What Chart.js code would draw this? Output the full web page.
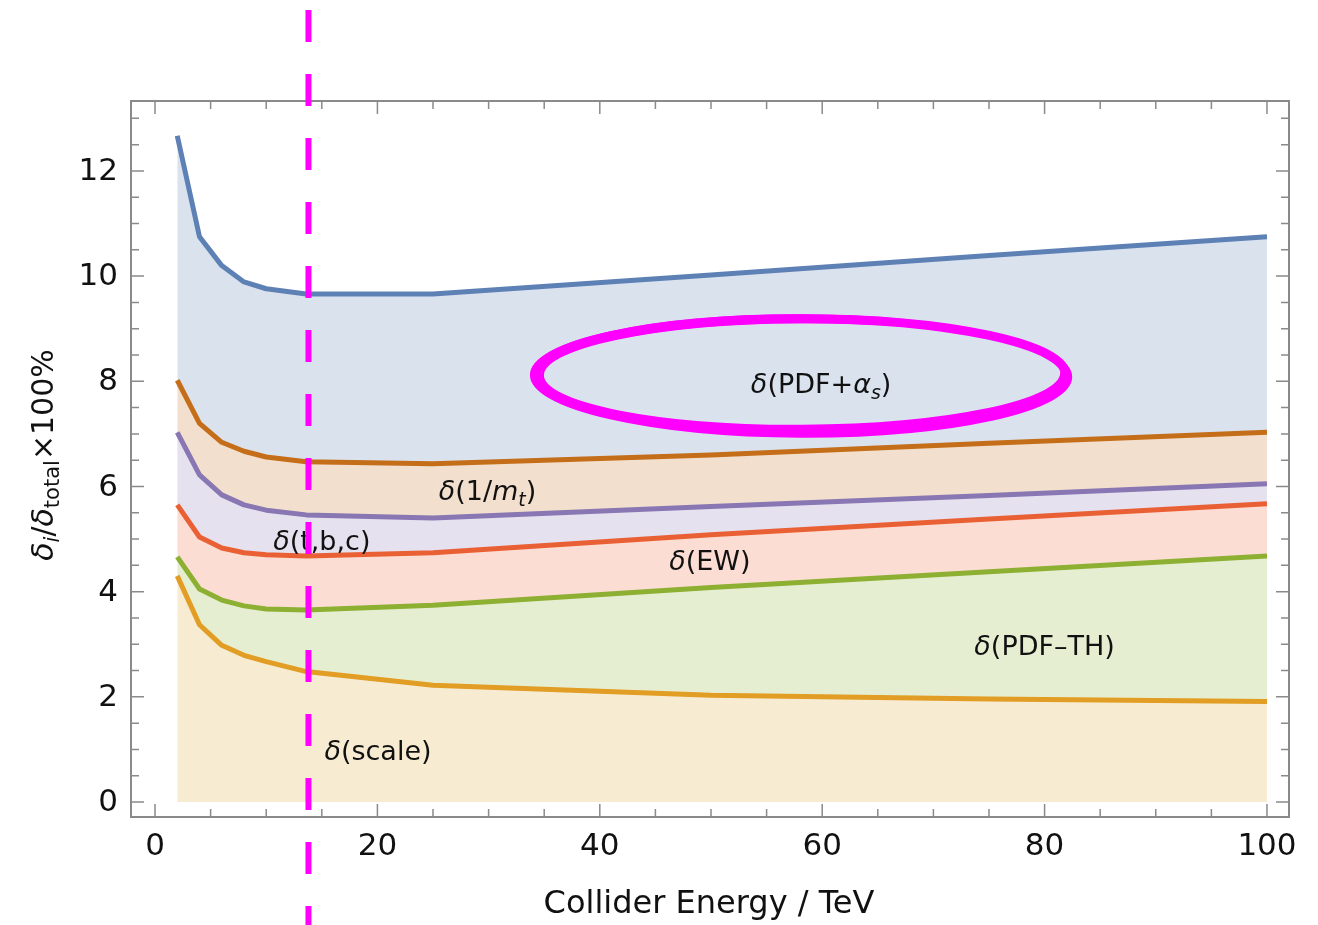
<!DOCTYPE html>
<html>
<head>
<meta charset="utf-8">
<script src="https://cdn.jsdelivr.net/npm/chart.js@4"></script>
<style>
  html, body { margin: 0; padding: 0; background: #fff; }
  #wrap { width: 1318px; height: 925px; }
</style>
</head>
<body>
<div id="wrap"><canvas id="grafica" width="1318" height="925"></canvas></div>
<script>
// Datos (energia del colisionador en TeV)
const energias = [2, 4, 6, 8, 10, 13.6, 25, 50, 75, 100];
const dScale   = [4.30, 3.37, 2.98, 2.79, 2.67, 2.48, 2.22, 2.03, 1.96, 1.91];
const dPdfTh   = [4.66, 4.05, 3.84, 3.73, 3.67, 3.65, 3.74, 4.08, 4.38, 4.68];
const dEW      = [5.65, 5.04, 4.83, 4.74, 4.70, 4.68, 4.74, 5.08, 5.38, 5.67];
const dTBC     = [7.03, 6.22, 5.84, 5.65, 5.55, 5.46, 5.40, 5.62, 5.83, 6.05];
const dMt      = [8.02, 7.20, 6.84, 6.67, 6.56, 6.47, 6.43, 6.60, 6.82, 7.03];
const dPdfAs   = [12.67, 10.75, 10.20, 9.89, 9.76, 9.66, 9.66, 10.02, 10.39, 10.75];

const xTicks = [0, 20, 40, 60, 80, 100];
const yTicks = [0, 2, 4, 6, 8, 10, 12];

const FONT = "'DejaVu Sans', sans-serif";

// etiquetas dentro de la grafica: [segmentos, x, y]
const etiquetas = [
  [[{ t: 'δ', it: 1 }, { t: '(PDF+' }, { t: 'α', it: 1 }, { t: 's', it: 1, sub: 1 }, { t: ')' }], 59.9, 7.97],
  [[{ t: 'δ', it: 1 }, { t: '(1/' }, { t: 'm', it: 1 }, { t: 't', it: 1, sub: 1 }, { t: ')' }], 29.9, 5.93],
  [[{ t: 'δ', it: 1 }, { t: '(t,b,c)' }], 15.0, 4.98],
  [[{ t: 'δ', it: 1 }, { t: '(EW)' }], 49.9, 4.6],
  [[{ t: 'δ', it: 1 }, { t: '(PDF–TH)' }], 80.0, 2.98],
  [[{ t: 'δ', it: 1 }, { t: '(scale)' }], 20.05, 0.99]
];

const lineaVertical = 13.8;

function fuente(s, size) {
  return (s.it ? 'italic ' : '') + (s.sub ? size * 0.7 : size) + 'px ' + FONT;
}
function anchoRico(ctx, segs, size) {
  let w = 0;
  segs.forEach(s => { ctx.font = fuente(s, size); w += ctx.measureText(s.t).width; });
  return w;
}
// dibuja texto con cursivas y subindices centrado en (cx, cy)
function textoRico(ctx, segs, size, cx, cy) {
  let x = cx - anchoRico(ctx, segs, size) / 2;
  const base = cy + size * 0.36;
  ctx.textAlign = 'left';
  ctx.textBaseline = 'alphabetic';
  segs.forEach(s => {
    ctx.font = fuente(s, size);
    ctx.fillText(s.t, x, s.sub ? base + size * 0.22 : base);
    x += ctx.measureText(s.t).width;
  });
}

const serie = (label, data, color, fill, relleno) => ({
  label, data, borderColor: color, backgroundColor: relleno, borderWidth: 5,
  fill, pointRadius: 0, tension: 0, borderCapStyle: 'butt', borderJoinStyle: 'round'
});

const decoracion = {
  id: 'decoracion',
  afterDatasetsDraw(chart) {
    const ctx = chart.ctx, xs = chart.scales.x, ys = chart.scales.y;
    ctx.save();
    // elipse magenta hecha a mano
    const cx = xs.getPixelForValue(58.1), cy = ys.getPixelForValue(8.12);
    const rx = xs.getPixelForValue(58.1 + 23.8) - cx, ry = ys.getPixelForValue(8.12) - ys.getPixelForValue(9.19);
    ctx.strokeStyle = '#ff00ff';
    ctx.lineWidth = 9;
    ctx.beginPath(); ctx.ellipse(cx, cy, rx, ry, 0, 0, Math.PI * 2); ctx.stroke();
    ctx.lineWidth = 3;
    ctx.beginPath(); ctx.ellipse(cx, cy + 1, rx + 5, ry + 4, 0.004, 0, Math.PI * 2); ctx.stroke();
    ctx.beginPath(); ctx.ellipse(cx + 1, cy - 1, rx - 5, ry - 4, -0.005, 0, Math.PI * 2); ctx.stroke();
    // etiquetas
    ctx.fillStyle = '#111';
    etiquetas.forEach(e => textoRico(ctx, e[0], 27, xs.getPixelForValue(e[1]), ys.getPixelForValue(e[2])));
    ctx.restore();
  },
  afterDraw(chart) {
    const ctx = chart.ctx, a = chart.chartArea, xs = chart.scales.x, ys = chart.scales.y;
    ctx.save();
    // marco y marcas
    ctx.strokeStyle = '#8a8a8a';
    ctx.lineWidth = 2;
    ctx.strokeRect(a.left, a.top, a.right - a.left, a.bottom - a.top);
    ctx.lineWidth = 1.5;
    ctx.beginPath();
    for (let v = 0; v <= 100; v += 5) {
      const p = xs.getPixelForValue(v), l = v % 20 === 0 ? 13 : 8;
      ctx.moveTo(p, a.bottom); ctx.lineTo(p, a.bottom - l);
      ctx.moveTo(p, a.top); ctx.lineTo(p, a.top + l);
    }
    for (let v = 0; v <= 13; v += 0.5) {
      const p = ys.getPixelForValue(v), l = v % 2 === 0 ? 13 : 8;
      ctx.moveTo(a.left, p); ctx.lineTo(a.left + l, p);
      ctx.moveTo(a.right, p); ctx.lineTo(a.right - l, p);
    }
    ctx.stroke();
    // numeros de los ejes
    ctx.fillStyle = '#111';
    ctx.font = '31px ' + FONT;
    ctx.textAlign = 'center'; ctx.textBaseline = 'middle';
    xTicks.forEach(v => ctx.fillText(String(v), xs.getPixelForValue(v), 847));
    ctx.textAlign = 'right';
    yTicks.forEach(v => ctx.fillText(String(v), 118, ys.getPixelForValue(v) + 1));
    // titulos
    ctx.textAlign = 'center';
    ctx.font = '32px ' + FONT;
    ctx.fillText('Collider Energy / TeV', 709, 905);
    ctx.save();
    ctx.translate(42, 455);
    ctx.rotate(-Math.PI / 2);
    textoRico(ctx, [{ t: 'δ', it: 1 }, { t: 'i', it: 1, sub: 1 }, { t: '/' }, { t: 'δ', it: 1 },
      { t: 'total', sub: 1 }, { t: '×100%' }], 30, 0, 0);
    ctx.restore();
    // linea discontinua magenta
    const px = xs.getPixelForValue(lineaVertical);
    ctx.strokeStyle = '#ff00ff';
    ctx.lineWidth = 6;
    ctx.setLineDash([32, 32]);
    ctx.beginPath(); ctx.moveTo(px, 10); ctx.lineTo(px, 925); ctx.stroke();
    ctx.restore();
  }
};

window.addEventListener('load', () => {
  const ctx = document.getElementById('grafica').getContext('2d');
  new Chart(ctx, {
    type: 'line',
    data: {
      labels: energias,
      datasets: [
        serie('δ(scale)', dScale, '#e29d24', 'origin', 'rgba(220,165,50,0.22)'),
        serie('δ(PDF-TH)', dPdfTh, '#8db033', '-1', 'rgba(143,176,50,0.22)'),
        serie('δ(EW)', dEW, '#ea6035', '-1', 'rgba(235,98,53,0.22)'),
        serie('δ(t,b,c)', dTBC, '#8877b2', '-1', 'rgba(135,120,179,0.22)'),
        serie('δ(1/mt)', dMt, '#c56e1a', '-1', 'rgba(197,110,26,0.22)'),
        serie('δ(PDF+αs)', dPdfAs, '#5e81b5', '-1', 'rgba(94,129,181,0.23)')
      ].map(d => ({ ...d, data: d.data.map((y, i) => ({ x: energias[i], y })) }))
    },
    options: {
      responsive: false,
      animation: false,
      layout: { padding: { top: 101, right: 29, left: 0, bottom: 0 } },
      plugins: {
        legend: { display: false },
        tooltip: { enabled: false },
        filler: { drawTime: 'beforeDatasetsDraw' }
      },
      scales: {
        x: {
          type: 'linear', min: -2.16, max: 101.98,
          ticks: { display: false }, grid: { display: false }, border: { display: false },
          afterFit: s => { s.height = 108; }
        },
        y: {
          min: -0.285, max: 13.33,
          ticks: { display: false }, grid: { display: false }, border: { display: false },
          afterFit: s => { s.width = 131; }
        }
      }
    },
    plugins: [decoracion]
  });
});
</script>
</body>
</html>
